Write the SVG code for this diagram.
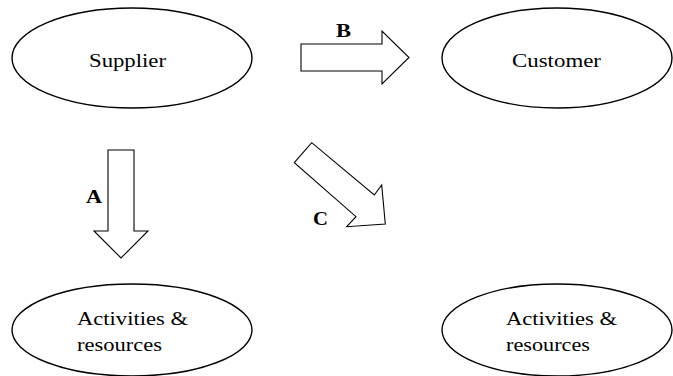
<svg xmlns="http://www.w3.org/2000/svg" width="673" height="376" viewBox="0 0 673 376">
<style>
.n{fill:#fff;stroke:#000;stroke-width:1.4}
.ar{fill:#fff;stroke:#000;stroke-width:1.1;stroke-linejoin:miter}
.t{font-family:'Liberation Serif','DejaVu Serif','Times New Roman',serif;font-size:18px;fill:#000}
.l{font-family:'Liberation Serif','DejaVu Serif','Times New Roman',serif;font-size:18px;font-weight:bold;fill:#000}
</style>
<rect width="673" height="376" fill="#fff"/>
<g id="supplier">
<ellipse class="n" cx="132" cy="58" rx="120" ry="50"/>
<text class="t" x="89" y="67" textLength="77" lengthAdjust="spacingAndGlyphs">Supplier</text>
</g>
<g id="customer">
<ellipse class="n" cx="557" cy="58" rx="115" ry="50"/>
<text class="t" x="512" y="67" textLength="89" lengthAdjust="spacingAndGlyphs">Customer</text>
</g>
<g id="activities-left">
<ellipse class="n" cx="132" cy="330" rx="120" ry="46"/>
<text class="t" x="77" y="325" textLength="111" lengthAdjust="spacingAndGlyphs">Activities &amp;</text>
<text class="t" x="77" y="351" textLength="85" lengthAdjust="spacingAndGlyphs">resources</text>
</g>
<g id="activities-right">
<ellipse class="n" cx="557" cy="330" rx="115" ry="46"/>
<text class="t" x="506" y="325" textLength="111" lengthAdjust="spacingAndGlyphs">Activities &amp;</text>
<text class="t" x="506" y="351" textLength="84" lengthAdjust="spacingAndGlyphs">resources</text>
</g>
<g id="connectors">
<polygon class="ar" points="301,44 382,44 382,31 409,57.5 382,84 382,71 301,71"/>
<text class="l" x="336" y="37" textLength="15" lengthAdjust="spacingAndGlyphs">B</text>
<polygon class="ar" points="108,150 134,150 134,231 148,231 121,258 94,231 108,231"/>
<text class="l" x="86" y="203" textLength="16" lengthAdjust="spacingAndGlyphs">A</text>
<polygon class="ar" points="294.3,162.7 311.7,142.7 374.3,195 381.7,185 385.3,224 346.7,226.7 356,216.7"/>
<text class="l" x="313" y="225" textLength="15" lengthAdjust="spacingAndGlyphs">C</text>
</g>
</svg>
